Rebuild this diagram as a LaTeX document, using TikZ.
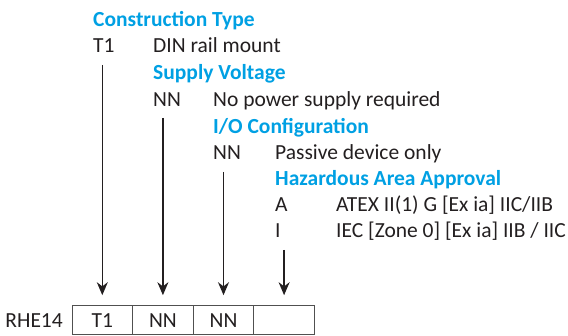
\documentclass[tikz,border=0pt]{standalone}
\usepackage{fontspec}
\setmainfont{Carlito}
\usetikzlibrary{arrows.meta, positioning}
\definecolor{codeBlue}{RGB}{0,160,227}
\definecolor{codeInk}{RGB}{35,31,32}
\definecolor{codeLine}{RGB}{80,80,80}

\begin{document}
\begin{tikzpicture}[x=1pt, y=-1pt,
      head/.style={anchor=base west, inner sep=0pt, font=\fontsize{21.5}{24}\selectfont\bfseries, text=codeBlue},
      item/.style={anchor=base west, inner sep=0pt, font=\fontsize{21.5}{24}\selectfont, text=codeInk},
      cell/.style={draw=codeLine, line width=1pt, minimum width=60.6pt, minimum height=29.3pt, inner sep=0pt,
      outer sep=0pt, font=\fontsize{21.5}{24}\selectfont, text=codeInk},
      arrow/.style={-{Stealth[length=13pt, width=11pt]}, line width=1.3pt, draw=codeInk}
    ]
    \useasboundingbox (0,0) rectangle (568,336);

    \node[head] (hconst) at (93,27) {Construction Type};
    \node[item] (cT1) at (93,53) {T1};
    \node[item] (dT1) at (153,53) {DIN rail mount};
    \node[head] (hsupply) at (153,80) {Supply Voltage};
    \node[item] (cNN1) at (153,107) {NN};
    \node[item] (dNN1) at (213,107) {No power supply required};
    \node[head] (hio) at (213,134) {I/O Configuration};
    \node[item] (cNN2) at (213,160) {NN};
    \node[item] (dNN2) at (275,160) {Passive device only};
    \node[head] (hhaz) at (275,186) {Hazardous Area Approval};
    \node[item] (cA) at (275,212) {A};
    \node[item] (dA) at (336,212) {ATEX II(1) G [Ex ia] IIC/IIB};
    \node[item] (cI) at (275,238) {I};
    \node[item] (dI) at (336,238) {IEC [Zone 0] [Ex ia] IIB / IIC};

    \node[cell, anchor=north west] (box1) at (72,305.7) {T1};
    \node[cell, right=0pt of box1] (box2) {NN};
    \node[cell, right=0pt of box2] (box3) {NN};
    \node[cell, right=0pt of box3] (box4) {};
    \node[item, anchor=east, inner sep=0pt] (model) at (63,320.5) {RHE14};

    \coordinate (s1) at (box1.north |- 0,65);
    \coordinate (s2) at (box2.north |- 0,118);
    \coordinate (s3) at (box3.north |- 0,172);
    \coordinate (s4) at (box4.north |- 0,250);
    \foreach \s/\b in {s1/box1, s2/box2, s3/box3, s4/box4} {
      \draw[arrow] (\s) -- ([yshift=10.5pt]\b.north);
    }
  \end{tikzpicture}
\end{document}
